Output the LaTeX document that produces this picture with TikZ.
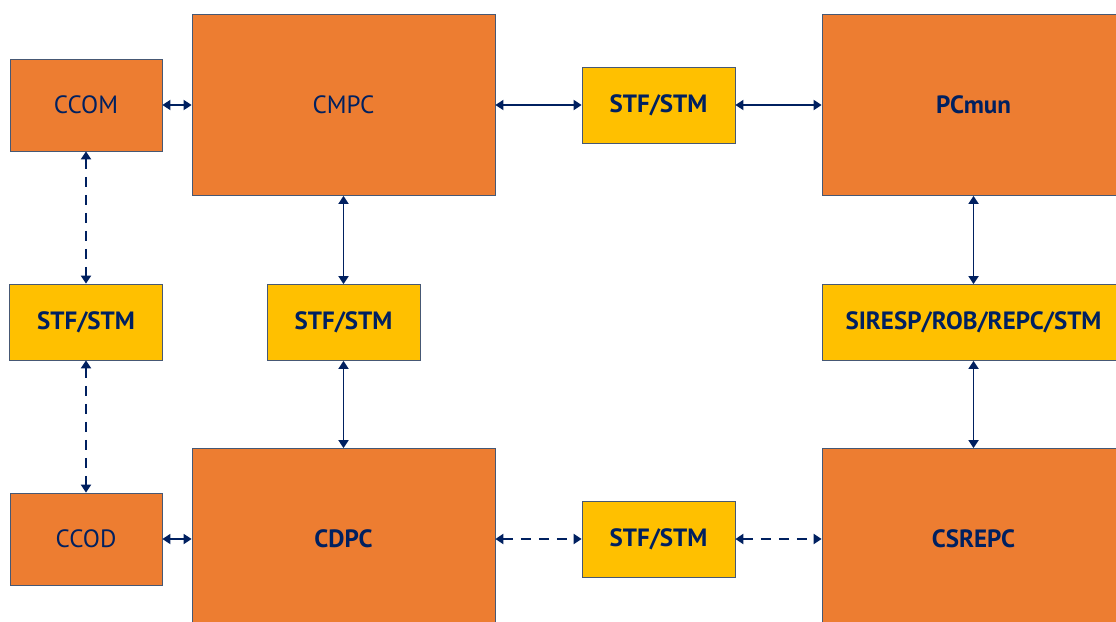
\documentclass[tikz,border=0pt]{standalone}
\usepackage{fontspec}
\setmainfont{PT Sans}
\usepackage{xcolor}
\definecolor{BoxOrange}{RGB}{237,125,49}
\definecolor{BoxYellow}{RGB}{255,192,0}
\definecolor{LinkNavy}{RGB}{0,32,96}
\definecolor{EdgeGrey}{RGB}{70,88,116}
\usepackage{tikz}
\usetikzlibrary{positioning,arrows.meta}
\tikzset{
  cbox/.style={draw=EdgeGrey,line width=0.8pt,fill=BoxOrange,minimum width=152pt,minimum height=92pt,text=LinkNavy,font=\fontsize{25}{28}\selectfont,inner sep=0pt},
  pbox/.style={cbox,minimum width=303pt,minimum height=181pt},
  sbox/.style={cbox,fill=BoxYellow,minimum width=153pt,minimum height=76pt,font=\fontsize{25}{28}\selectfont\bfseries},
  link/.style={{Triangle[length=8pt,width=10pt]}-{Triangle[length=8pt,width=10pt]},line width=1.8pt,draw=LinkNavy},
  dlink/.style={link,line width=2.3pt,dash pattern=on 10pt off 8pt},
}

\begin{document}
\begin{tikzpicture}[x=1pt,y=1pt,node distance=86.2pt]
    \useasboundingbox (0,0) rectangle (1116,-621);
    \clip (0,0) rectangle (1116,-621);
    \node[cbox] (ccom) at (86,-105) {CCOM};
    \node[pbox,right=29.2pt of ccom] (cmpc) {CMPC};
    \node[sbox,right=of cmpc] (stfa) {STF/STM};
    \node[pbox,right=of stfa,font=\fontsize{25}{28}\selectfont\bfseries] (pcmun) {PCmun};
    \node[sbox,below=132.2pt of ccom] (stfb) {STF/STM};
    \node[sbox,below=88.2pt of cmpc] (stfc) {STF/STM};
    \node[sbox,below=88.2pt of pcmun,minimum width=303pt] (siresp) {SIRESP/ROB/REPC/STM};
    \node[cbox,below=132.2pt of stfb] (ccod) {CCOD};
    \node[pbox,below=87.2pt of stfc,font=\fontsize{25}{28}\selectfont\bfseries] (cdpc) {CDPC};
    \node[sbox,right=of cdpc] (stfd) {STF/STM};
    \node[pbox,right=of stfd,font=\fontsize{25}{28}\selectfont\bfseries] (csrepc) {CSREPC};
    \draw[link] (ccom)--(cmpc); \draw[link] (cmpc)--(stfa); \draw[link] (stfa)--(pcmun);
    \draw[link] (cmpc)--(stfc); \draw[link] (stfc)--(cdpc);
    \draw[link] (pcmun)--(siresp); \draw[link] (siresp)--(csrepc);
    \draw[link] (ccod)--(cdpc);
    \draw[dlink] (ccom)--(stfb); \draw[dlink] (stfb)--(ccod);
    \draw[dlink] (cdpc)--(stfd); \draw[dlink] (stfd)--(csrepc);
  \end{tikzpicture}
\end{document}
